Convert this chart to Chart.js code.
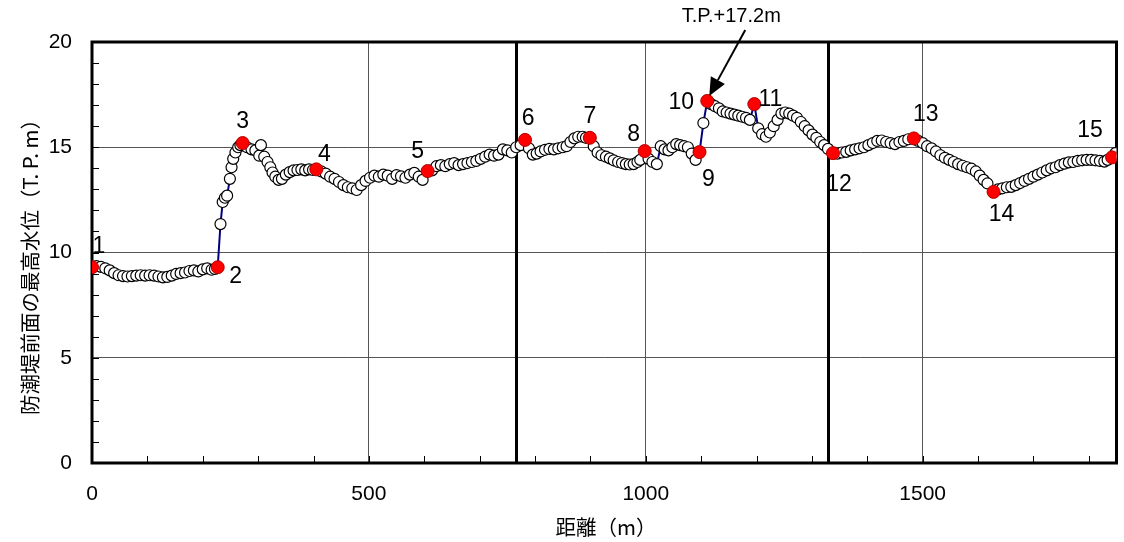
<!DOCTYPE html>
<html>
<head>
<meta charset="utf-8">
<script src="https://cdn.jsdelivr.net/npm/chart.js@4.4.1/dist/chart.umd.min.js"></script>
<style>
  html, body { margin: 0; padding: 0; background: #ffffff; }
  #wrap { position: relative; width: 1124px; height: 542px; }
</style>
</head>
<body>
<div id="wrap"><canvas id="c" width="1124" height="542"></canvas></div>
<script>
// Survey points along the seawall: distance (m) and peak water level (T.P. m)
const distance = [
  8, 16, 24, 32, 40, 48, 56, 64, 72, 80, 88, 96, 104, 112, 120, 128, 136, 144, 152, 160, 168, 176, 184, 192, 200, 208, 216, 222,
  232, 236, 240, 244, 249, 252, 255, 259, 264, 268,
  280, 288, 295, 302, 305, 311, 317, 322, 326, 331, 337, 343, 350, 357, 364, 371, 378, 385, 392, 399,
  414, 422, 430, 438, 446, 454, 462, 470, 478, 486, 494, 502, 510, 518, 526, 534, 542, 550, 558, 566, 574, 582, 590, 597,
  614, 622, 630, 638, 646, 654, 662, 670, 678, 686, 694, 702, 710, 718, 726, 734, 742, 750, 758, 766, 774,
  789, 796, 803, 810, 818, 826, 834, 842, 850, 857, 864, 871, 878, 886, 892,
  906, 913, 920, 928, 935, 942, 950, 957, 964, 971, 978, 985, 990,
  1005, 1012, 1020, 1027, 1034, 1041, 1048, 1055, 1062, 1069, 1076, 1083, 1090,
  1104,
  1118, 1125, 1132, 1139, 1146, 1153, 1160, 1167, 1174, 1181, 1188,
  1203, 1210, 1217, 1224, 1231, 1238, 1245, 1252, 1259, 1266, 1273, 1280, 1287, 1294, 1301, 1308, 1315, 1322, 1329,
  1346, 1354, 1362, 1370, 1378, 1386, 1394, 1402, 1410, 1418, 1426, 1434, 1442, 1450, 1458, 1466, 1474,
  1492, 1500, 1508, 1516, 1524, 1532, 1540, 1548, 1556, 1564, 1572, 1580, 1588, 1596, 1603, 1610, 1617,
  1636, 1644, 1652, 1660, 1668, 1676, 1684, 1692, 1700, 1708, 1716, 1724, 1732, 1740, 1748, 1756, 1764, 1772, 1780, 1788, 1796, 1804, 1812, 1820, 1828, 1834,
  1848
];
const waterLevel = [
  9.35, 9.32, 9.25, 9.15, 9.02, 8.92, 8.88, 8.86, 8.88, 8.90, 8.92, 8.90, 8.92, 8.90, 8.86, 8.82, 8.84, 8.90, 8.98, 9.02, 9.05, 9.12, 9.15, 9.10, 9.20, 9.25, 9.18, 9.22,
  11.35, 12.40, 12.60, 12.70, 13.50, 14.05, 14.45, 14.75, 15.00, 15.10,
  15.00, 14.90, 14.85, 14.60, 15.10, 14.55, 14.30, 14.05, 13.80, 13.60, 13.45, 13.50, 13.70, 13.82, 13.90, 13.92, 13.95, 13.90, 13.95, 13.92,
  13.85, 13.75, 13.60, 13.50, 13.35, 13.20, 13.10, 13.05, 12.97, 13.20, 13.40, 13.55, 13.65, 13.60, 13.70, 13.65, 13.50, 13.68, 13.62, 13.55, 13.70, 13.78, 13.60, 13.45,
  13.90, 14.10, 14.15, 14.10, 14.20, 14.25, 14.15, 14.20, 14.25, 14.30, 14.35, 14.45, 14.55, 14.65, 14.60, 14.65, 14.90, 14.85, 14.75, 15.00, 15.10,
  14.95, 14.65, 14.70, 14.80, 14.88, 14.92, 14.90, 14.95, 15.00, 15.05, 15.25, 15.42, 15.50, 15.50, 15.45,
  15.05, 14.75, 14.62, 14.55, 14.47, 14.38, 14.30, 14.25, 14.20, 14.18, 14.20, 14.30, 14.40,
  14.45, 14.30, 14.20, 15.05, 14.90, 14.85, 15.00, 15.15, 15.10, 15.05, 15.00, 14.70, 14.40,
  16.15,
  17.05, 16.95, 16.85, 16.70, 16.65, 16.60, 16.55, 16.50, 16.45, 16.40, 16.30,
  15.90, 15.62, 15.50, 15.70, 16.00, 16.30, 16.60, 16.65, 16.60, 16.50, 16.40, 16.20, 16.00, 15.80, 15.60, 15.45, 15.25, 15.10, 14.92,
  14.70, 14.75, 14.78, 14.85, 14.90, 14.95, 15.00, 15.10, 15.20, 15.30, 15.32, 15.25, 15.20, 15.15, 15.25, 15.30, 15.38,
  15.30, 15.20, 15.05, 14.95, 14.80, 14.62, 14.50, 14.40, 14.30, 14.20, 14.12, 14.05, 13.98, 13.85, 13.65, 13.45, 13.28,
  13.00, 13.05, 13.10, 13.12, 13.20, 13.30, 13.40, 13.50, 13.60, 13.70, 13.80, 13.90, 14.00, 14.05, 14.15, 14.22, 14.28, 14.30, 14.35, 14.38, 14.40, 14.40, 14.38, 14.35, 14.32, 14.40,
  14.72
];

// Numbered check points (red markers)
const keyNo = ['1', '2', '3', '4', '5', '6', '7', '8', '9', '10', '11', '12', '13', '14', '15'];
const keyDistance = [0, 227, 272, 405, 606, 782, 899, 998, 1097, 1111, 1196, 1338, 1484, 1628, 1842];
const keyLevel = [9.30, 9.30, 15.20, 13.95, 13.87, 15.35, 15.45, 14.82, 14.77, 17.20, 17.05, 14.72, 15.42, 12.88, 14.52];

// Section boundaries (thick vertical lines)
const sectionBounds = [765, 1329];

// Callout for the highest point
const peakIndex = 9;
const peakText = 'T.P.+17.2m';

// Axis settings
const xMax = 1850;
const yMax = 20;

// Label placement around each red marker (pixel offsets of the text centre)
const keyLabelOffset = [
  [7, -21], [18, 9], [0, -21], [8, -15], [-10, -19], [3, -21], [0, -21], [-11, -16],
  [9, 28], [-26, 2], [16, -4], [6, 32], [12, -24], [8, 23], [-22, -27]
];

// one connected line through all points, in distance order
const allPts = distance.map((d, i) => ({ x: d, y: waterLevel[i] }))
  .concat(keyDistance.map((d, i) => ({ x: d, y: keyLevel[i] })))
  .sort((a, b) => a.x - b.x);
const keyPts = keyDistance.map((d, i) => ({ x: d, y: keyLevel[i] }));

const tickFont = { family: "'Liberation Sans', Arial, sans-serif", size: 21 };

const framePlugin = {
  id: 'frame',
  beforeDatasetsDraw(chart) {
    const { ctx, chartArea: a, scales: { x, y } } = chart;
    ctx.save();
    // minor ticks, pointing inward
    ctx.strokeStyle = '#000';
    ctx.lineWidth = 1;
    ctx.beginPath();
    for (let v = 1; v < yMax; v++) {
      const py = Math.round(y.getPixelForValue(v)) + 0.5;
      ctx.moveTo(a.left, py); ctx.lineTo(a.left + 7, py);
    }
    for (let v = 100; v < xMax; v += 100) {
      const px = Math.round(x.getPixelForValue(v)) + 0.5;
      ctx.moveTo(px, a.bottom); ctx.lineTo(px, a.bottom - 7);
    }
    ctx.stroke();
    // section boundaries
    ctx.lineWidth = 3;
    ctx.beginPath();
    sectionBounds.forEach(v => {
      const px = Math.round(x.getPixelForValue(v)) + 0.5;
      ctx.moveTo(px, a.top); ctx.lineTo(px, a.bottom);
    });
    ctx.stroke();
    // plot frame
    ctx.strokeRect(a.left, a.top, a.right - a.left, a.bottom - a.top);
    ctx.restore();
  },
  afterDatasetsDraw(chart) {
    const { ctx, scales: { x, y } } = chart;
    ctx.save();
    ctx.fillStyle = '#000';
    ctx.font = "23px 'Liberation Sans', Arial, sans-serif";
    ctx.textAlign = 'center';
    ctx.textBaseline = 'middle';
    keyNo.forEach((t, i) => {
      const px = x.getPixelForValue(keyDistance[i]);
      const py = y.getPixelForValue(keyLevel[i]);
      ctx.fillText(t, px + keyLabelOffset[i][0], py + keyLabelOffset[i][1]);
    });
    // callout arrow to the peak
    const tx = x.getPixelForValue(keyDistance[peakIndex]) + 2;
    const ty = y.getPixelForValue(keyLevel[peakIndex]) - 5;
    const sx = tx + 36, sy = ty - 66;
    const ang = Math.atan2(ty - sy, tx - sx);
    const hl = 18, hw = 8;
    const bx = tx - hl * Math.cos(ang), by = ty - hl * Math.sin(ang);
    ctx.strokeStyle = '#000';
    ctx.lineWidth = 2;
    ctx.beginPath(); ctx.moveTo(sx, sy); ctx.lineTo(bx, by); ctx.stroke();
    ctx.beginPath();
    ctx.moveTo(tx, ty);
    ctx.lineTo(bx + hw * Math.sin(ang), by - hw * Math.cos(ang));
    ctx.lineTo(bx - hw * Math.sin(ang), by + hw * Math.cos(ang));
    ctx.closePath(); ctx.fill();
    ctx.font = "20px 'Liberation Sans', Arial, sans-serif";
    ctx.fillText(peakText, sx - 14, sy - 13);

    // axis titles
    ctx.font = "20.5px 'Noto Sans CJK JP', sans-serif";
    ctx.fillText('距離（m）', 606, 527);
    ctx.translate(30, 262);
    ctx.rotate(-Math.PI / 2);
    ctx.fillText('防潮堤前面の最高水位（T. P. m）', 0, 0);
    ctx.restore();
  }
};

new Chart(document.getElementById('c'), {
  type: 'line',
  data: {
    datasets: [
      {
        data: keyPts,
        showLine: false,
        pointRadius: 6.5,
        pointBackgroundColor: '#ff0000',
        pointBorderColor: '#b00000',
        pointBorderWidth: 1,
        order: 0
      },
      {
        data: allPts,
        borderColor: '#000080',
        borderWidth: 2,
        tension: 0,
        pointRadius: 5.5,
        pointBackgroundColor: '#ffffff',
        pointBorderColor: '#000000',
        pointBorderWidth: 1.2,
        order: 1
      }
    ]
  },
  options: {
    responsive: false,
    animation: false,
    events: [],
    layout: { padding: { top: 42, right: 2, left: 0, bottom: 0 } },
    plugins: { legend: { display: false }, tooltip: { enabled: false } },
    scales: {
      x: {
        type: 'linear', min: 0, max: xMax,
        border: { display: false },
        grid: {
          drawTicks: false,
          color: c => (c.tick && c.tick.value % 500 === 0 && c.tick.value > 0 && c.tick.value < xMax) ? '#555555' : 'rgba(0,0,0,0)',
          lineWidth: 1
        },
        ticks: {
          stepSize: 100, autoSkip: false, maxRotation: 0, padding: 19,
          color: '#000', font: tickFont,
          callback: v => (v % 500 === 0 ? String(v) : '')
        },
        afterFit: s => { s.height = 79; s.paddingLeft = 0; s.paddingRight = 0; }
      },
      y: {
        min: 0, max: yMax,
        border: { display: false },
        grid: {
          drawTicks: false,
          color: c => (c.tick && c.tick.value % 5 === 0 && c.tick.value > 0 && c.tick.value < yMax) ? '#555555' : 'rgba(0,0,0,0)',
          lineWidth: 1
        },
        ticks: {
          stepSize: 1, autoSkip: false, padding: 20,
          color: '#000', font: tickFont,
          callback: v => (v % 5 === 0 ? String(v) : '')
        },
        afterFit: s => { s.width = 92; s.paddingTop = 0; s.paddingBottom = 0; }
      }
    }
  },
  plugins: [framePlugin]
});
</script>
</body>
</html>
